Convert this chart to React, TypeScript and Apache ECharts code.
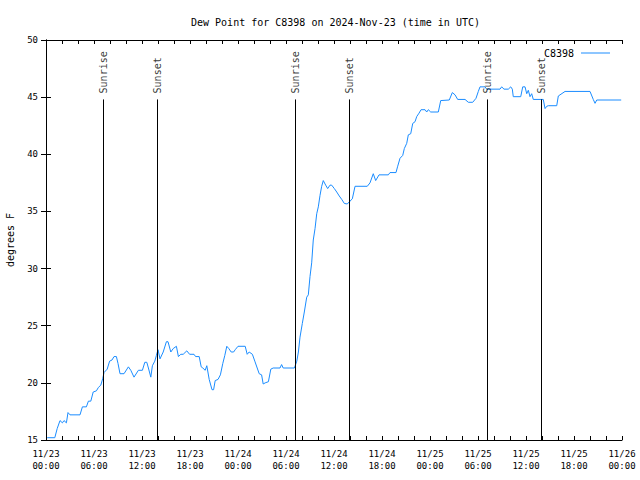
import React, { useEffect, useRef } from "react";
import * as echarts from "echarts";

const titleText = "Dew Point for C8398 on 2024-Nov-23 (time in UTC)";
const seriesName = "C8398";
const yAxisName = "degrees F";

// hours since 2024-11-23 00:00 UTC
const hours = [
  0.15, 1.1, 1.4, 1.75, 2.05, 2.25, 2.55, 2.75, 3.0, 4.25, 4.55, 5.05, 5.3, 5.6, 5.9, 6.3, 6.55, 6.85,
  7.1, 7.25, 7.65, 7.95, 8.25, 8.5, 8.8, 9.0, 9.25, 9.75, 10.3, 10.6, 11.0, 11.55, 12.05, 12.35, 12.6,
  12.8, 13.1, 13.3, 13.6, 13.8, 14.0, 14.25, 14.65, 15.05, 15.25, 15.6, 15.9, 16.3, 16.55, 16.85, 17.15,
  17.6, 17.95, 18.5, 18.7, 19.15, 19.4, 19.6, 19.9, 20.1, 20.4, 20.75, 20.95, 21.15, 21.5, 21.8, 22.1,
  22.35, 22.6, 22.85, 23.15, 23.45, 23.65, 24.0, 24.9, 25.15, 25.4, 25.8, 26.1, 26.65, 26.95, 27.15,
  27.4, 27.8, 28.1, 28.4, 29.25, 29.45, 29.65, 31.05, 31.35, 31.55, 31.75, 32.04, 32.29, 32.59, 32.79,
  33.0, 33.21, 33.41, 33.63, 33.84, 34.04, 34.25, 34.46, 34.66, 34.96, 35.21, 35.5, 35.71, 36.04, 36.34,
  36.66, 36.96, 37.29, 37.66, 38.0, 38.29, 38.63, 40.16, 40.5, 40.91, 41.21, 41.63, 42.79, 43.0, 43.75,
  43.94, 44.25, 44.59, 44.79, 45.09, 45.29, 45.59, 45.84, 46.13, 46.34, 46.63, 46.88, 47.38, 47.59,
  47.79, 48.09, 49.04, 49.34, 50.41, 50.79, 51.13, 51.46, 52.38, 52.79, 53.34, 53.75, 54.04, 54.25,
  54.88, 55.09, 56.75, 56.96, 57.25, 57.79, 58.09, 58.29, 58.41, 59.34, 59.59, 59.88, 60.09, 60.29,
  60.5, 60.71, 60.91, 62.16, 62.38, 62.59, 62.79, 63.84, 64.04, 64.88, 68.0, 68.41, 68.63, 68.84, 71.9,
];
const dewPoint = [
  15.2, 15.2, 16.0, 16.7, 16.5, 16.7, 16.5, 17.4, 17.2, 17.2, 17.9, 17.9, 18.4, 18.4, 19.2, 19.3, 19.6, 19.8,
  20.4, 20.9, 21.2, 21.9, 22.0, 22.3, 22.3, 21.7, 20.8, 20.8, 21.4, 21.1, 20.5, 21.1, 21.1, 21.8, 21.8,
  21.3, 20.5, 21.5, 21.9, 22.4, 22.9, 22.1, 22.7, 23.6, 23.6, 22.7, 23.0, 23.2, 22.3, 22.5, 22.5,
  22.8, 22.5, 22.5, 22.3, 22.3, 21.4, 21.3, 21.1, 21.5, 20.3, 19.4, 19.4, 20.2, 20.3, 20.7, 21.7,
  22.4, 23.2, 23.0, 22.7, 22.7, 22.9, 23.2, 23.2, 22.5, 22.7, 22.5, 21.9, 20.8, 20.7, 19.9,
  20.0, 20.1, 21.2, 21.3, 21.3, 21.6, 21.3, 21.3, 21.9, 22.7, 24.0, 25.2, 26.2, 27.5, 27.7,
  29.3, 30.5, 32.5, 33.5, 34.8, 35.4, 36.4, 37.2, 37.7, 37.3, 37.0, 37.3, 37.3, 37.0, 36.7,
  36.35, 36.06, 35.7, 35.65, 35.9, 36.1, 37.2, 37.2, 37.5, 38.3, 37.7, 38.2, 38.2, 38.4, 38.4,
  38.9, 39.65, 39.9, 40.5, 40.96, 41.7, 41.8, 42.7, 42.85, 43.3, 43.6, 43.9, 43.9, 43.7,
  43.9, 43.7, 43.7, 44.7, 44.75, 45.4, 45.2, 44.8, 44.8, 44.55, 44.55, 44.9, 45.5, 45.9,
  45.9, 45.7, 45.7, 45.9, 45.7, 45.7, 45.9, 45.7, 45.04, 45.04, 45.9, 45.9, 45.3, 45.6,
  45.04, 45.3, 44.8, 44.8, 44.0, 44.2, 44.25, 44.25, 45.1, 45.5, 45.5, 44.8, 44.46, 44.75, 44.75,
];

const sunEventHours = [7.125, 13.875, 31.125, 37.875, 55.125, 61.875];
const sunEventLabels = ["Sunrise", "Sunset", "Sunrise", "Sunset", "Sunrise", "Sunset"];
const sunLineTop = 44.8;

const xMin = 0;
const xMax = 72;
const xInterval = 6;
const yMin = 15;
const yMax = 50;
const yInterval = 5;
const startDay = 23;
const startMonth = 11;

const FONT = "DejaVu Sans Mono";
const LINE_COLOR = "#1a8cff";

export default function App() {
  const ref = useRef<HTMLDivElement>(null);
  useEffect(() => {
    if (!ref.current) return;
    const chart = echarts.init(ref.current, null, { renderer: "svg" });
    const pad = (n: number) => (n < 10 ? "0" + n : "" + n);
    const fmt = (v: number) => {
      const day = startDay + Math.floor(v / 24);
      const hh = Math.round(v % 24);
      return `${startMonth}/${day}\n${pad(hh)}:00`;
    };
    const lineData = hours.map((h, i) => [h, dewPoint[i]]);
    const sunLines = sunEventHours.map((h) => [
      { coord: [h, yMin] },
      { coord: [h, sunLineTop] },
    ]);
    const sunLabels = sunEventHours.map((h, i) => ({ value: [h, sunLineTop], name: sunEventLabels[i] }));
    const tickCommon = {
      axisLine: { show: true, lineStyle: { color: "#000", width: 1 } },
      axisTick: { show: true, inside: true, length: 5, lineStyle: { color: "#000" } },
      splitLine: { show: false },
    };
    chart.setOption({
      animation: false,
      backgroundColor: "#fff",
      title: {
        text: titleText,
        left: 186,
        top: 12,
        textStyle: { fontFamily: FONT, fontSize: 10, fontWeight: "normal", color: "#000" },
      },
      legend: {
        data: [{ name: seriesName, icon: "rect" }],
        right: 25,
        top: 43,
        align: "right",
        itemWidth: 29,
        itemHeight: 1,
        itemGap: 6,
        itemStyle: { color: LINE_COLOR },
        textStyle: { fontFamily: FONT, fontSize: 10, color: "#000", padding: [0, 2, 0, 0] },
      },
      grid: { left: 46, right: 18, top: 40, bottom: 40, containLabel: false, outerBoundsMode: "none" },
      xAxis: [
        {
          type: "value",
          min: xMin,
          max: xMax,
          interval: xInterval,
          position: "bottom",
          ...tickCommon,
          minorTick: { show: true, splitNumber: 3, length: 4, lineStyle: { color: "#000" } },
          axisTick: { show: true, inside: true, length: 4, lineStyle: { color: "#000" } },
          axisLabel: {
            formatter: fmt,
            fontFamily: FONT,
            fontSize: 9,
            color: "#000",
            margin: 8,
            lineHeight: 12,
          },
        },
        {
          type: "value",
          min: xMin,
          max: xMax,
          interval: xInterval,
          position: "top",
          ...tickCommon,
          minorTick: { show: true, splitNumber: 3, length: 4, lineStyle: { color: "#000" } },
          axisTick: { show: true, inside: true, length: 4, lineStyle: { color: "#000" } },
          axisLabel: { show: false },
        },
      ],
      yAxis: [
        {
          type: "value",
          min: yMin,
          max: yMax,
          interval: yInterval,
          position: "left",
          ...tickCommon,
          name: yAxisName,
          nameLocation: "middle",
          nameRotate: 90,
          nameGap: 31,
          nameTextStyle: { fontFamily: FONT, fontSize: 10, color: "#000" },
          axisLabel: { fontFamily: FONT, fontSize: 9, color: "#000", margin: 8 },
        },
        {
          type: "value",
          min: yMin,
          max: yMax,
          interval: yInterval,
          position: "right",
          ...tickCommon,
          axisLabel: { show: false },
        },
      ],
      series: [
        {
          name: seriesName,
          type: "line",
          data: lineData,
          showSymbol: false,
          symbol: "none",
          lineStyle: { color: LINE_COLOR, width: 1 },
          itemStyle: { color: LINE_COLOR },
          z: 3,
          markLine: {
            silent: true,
            symbol: ["none", "none"],
            label: { show: false },
            lineStyle: { color: "#000", width: 1, type: "solid" },
            data: sunLines,
          },
        },
        {
          name: "sunLabels",
          type: "scatter",
          data: sunLabels,
          symbolSize: 0,
          silent: true,
          label: {
            show: true,
            position: "top",
            distance: 6,
            rotate: 90,
            align: "left",
            verticalAlign: "middle",
            formatter: (p: any) => p.name,
            fontFamily: FONT,
            fontSize: 10,
            color: "#000",
          },
          z: 4,
        },
      ],
    });
    return () => chart.dispose();
  }, []);
  return <div ref={ref} style={{ width: 640, height: 480, position: "absolute", left: 0, top: 0 }} />;
}
